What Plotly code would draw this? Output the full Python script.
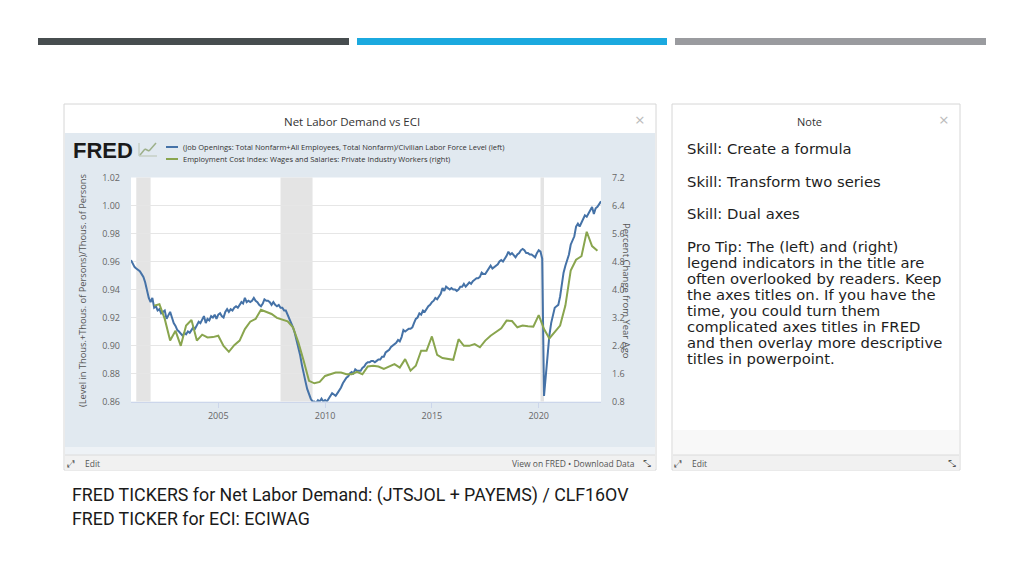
import plotly.graph_objects as go
import pandas as pd

W, H = 1024, 576
# the page body adds an 8px margin; draw everything shifted back by it
OX, OY = 8, 8

# (JTSJOL + PAYEMS) / CLF16OV, monthly, first value Dec 2000
nld_start = "2000-12-01"
net_labor_demand = [
    0.961,
    0.958, 0.956, 0.955, 0.954, 0.953, 0.951, 0.949, 0.945, 0.939, 0.934, 0.931, 0.934,  # 2001
    0.927, 0.928, 0.925, 0.926, 0.923, 0.924, 0.925, 0.919, 0.922, 0.924, 0.920, 0.916,  # 2002
    0.914, 0.911, 0.910, 0.908, 0.907, 0.909, 0.908, 0.910, 0.909, 0.911, 0.913, 0.912,  # 2003
    0.915, 0.917, 0.916, 0.919, 0.921, 0.916, 0.919, 0.918, 0.921, 0.920, 0.922, 0.919,  # 2004
    0.922, 0.923, 0.921, 0.920, 0.924, 0.926, 0.924, 0.926, 0.925, 0.927, 0.928, 0.927,  # 2005
    0.929, 0.931, 0.930, 0.934, 0.931, 0.932, 0.931, 0.932, 0.934, 0.932, 0.931, 0.929,  # 2006
    0.928, 0.930, 0.933, 0.932, 0.932, 0.931, 0.929, 0.931, 0.929, 0.928, 0.929, 0.927,  # 2007
    0.927, 0.925, 0.925, 0.922, 0.920, 0.917, 0.913, 0.909, 0.904, 0.898, 0.893, 0.886,  # 2008
    0.879, 0.874, 0.869, 0.865, 0.862, 0.860, 0.860, 0.859, 0.861, 0.860, 0.862, 0.860,  # 2009
    0.861, 0.860, 0.862, 0.864, 0.866, 0.865, 0.864, 0.866, 0.868, 0.870, 0.873, 0.875,  # 2010
    0.877, 0.878, 0.880, 0.881, 0.880, 0.883, 0.882, 0.882, 0.882, 0.884, 0.885, 0.887,  # 2011
    0.888, 0.888, 0.889, 0.889, 0.888, 0.889, 0.890, 0.890, 0.892, 0.892, 0.895, 0.896,  # 2012
    0.897, 0.899, 0.900, 0.901, 0.902, 0.904, 0.903, 0.906, 0.911, 0.910, 0.911, 0.912,  # 2013
    0.912, 0.913, 0.916, 0.919, 0.920, 0.923, 0.922, 0.925, 0.924, 0.926, 0.928, 0.929,  # 2014
    0.931, 0.932, 0.934, 0.933, 0.935, 0.937, 0.941, 0.939, 0.942, 0.941, 0.940, 0.941,  # 2015
    0.940, 0.940, 0.939, 0.940, 0.942, 0.942, 0.944, 0.942, 0.944, 0.945, 0.944, 0.946,  # 2016
    0.947, 0.948, 0.948, 0.949, 0.952, 0.951, 0.951, 0.953, 0.955, 0.957, 0.955, 0.956,  # 2017
    0.957, 0.958, 0.960, 0.961, 0.960, 0.962, 0.964, 0.967, 0.965, 0.966, 0.964, 0.963,  # 2018
    0.965, 0.966, 0.968, 0.969, 0.968, 0.966, 0.966, 0.965, 0.965, 0.964, 0.963, 0.966,  # 2019
    0.968, 0.967, 0.962, 0.864, 0.879, 0.898, 0.907, 0.916, 0.922, 0.927, 0.928, 0.929,  # 2020
    0.935, 0.944, 0.952, 0.957, 0.961, 0.965, 0.972, 0.975, 0.978, 0.985, 0.987, 0.985,  # 2021
    0.988, 0.990, 0.993, 0.992, 0.994, 0.996, 0.999, 0.994, 0.998, 0.999, 1.001, 1.003,  # 2022
]

# ECIWAG, percent change from year ago, quarterly from 2002Q1
eci_start = "2002-01-01"
eci_wages_yoy = [
    3.54, 3.58, 3.16, 2.54,  # 2002
    2.82, 2.39, 2.97, 3.13,  # 2003
    2.54, 2.71, 2.63, 2.64,  # 2004
    2.68, 2.39, 2.22, 2.41,  # 2005
    2.54, 2.87, 3.08, 3.16,  # 2006
    3.42, 3.37, 3.30, 3.19,  # 2007
    3.14, 3.09, 2.92, 2.49,  # 2008
    1.96, 1.39, 1.32, 1.36,  # 2009
    1.53, 1.58, 1.63, 1.63,  # 2010
    1.58, 1.58, 1.65, 1.58,  # 2011
    1.80, 1.82, 1.80, 1.73,  # 2012
    1.80, 1.87, 1.77, 2.01,  # 2013
    1.68, 1.82, 2.25, 2.25,  # 2014
    2.66, 2.13, 2.04, 2.01,  # 2015
    1.99, 2.58, 2.39, 2.39,  # 2016
    2.44, 2.35, 2.54, 2.68,  # 2017
    2.79, 2.89, 3.11, 3.10,  # 2018
    2.92, 2.97, 2.95, 2.94,  # 2019
    3.27, 2.87, 2.60, 2.79,  # 2020
    2.97, 3.54, 4.54, 4.85,  # 2021
    4.95, 5.65, 5.24, 5.11,  # 2022
]

recessions = [("2001-03-01", "2001-11-01"), ("2007-12-01", "2009-06-01"), ("2020-02-01", "2020-04-01")]
x_tick_years = ["2005", "2010", "2015", "2020"]

nld_dates = pd.date_range(nld_start, periods=len(net_labor_demand), freq="MS")
eci_dates = pd.date_range(eci_start, periods=len(eci_wages_yoy), freq="QS")

BLUE = "#4572a7"
GREEN = "#89a54e"
PANEL = "#e1e9f0"
FONT = "Open Sans"


def fx(x):
    return (x - OX) / W


def fy(y):
    return 1 - (y - OY) / H


def rect(x0, y0, x1, y1, fill, line=None):
    return dict(type="rect", xref="paper", yref="paper", layer="below",
                x0=fx(x0), x1=fx(x1), y0=fy(y1), y1=fy(y0),
                fillcolor=fill, line={"width": 1 if line else 0, "color": line or fill})


def seg(x0, y0, x1, y1, color, width=2):
    return dict(type="line", xref="paper", yref="paper",
                x0=fx(x0), x1=fx(x1), y0=fy(y0), y1=fy(y1),
                line={"color": color, "width": width})


def txt(x, y, s, size, color="#333", family=FONT, xanchor="center", angle=0, bold=False):
    return dict(x=fx(x), y=fy(y), xref="paper", yref="paper", text=f"<b>{s}</b>" if bold else s,
                showarrow=False, xanchor=xanchor, yanchor="middle", textangle=angle,
                font={"size": size, "color": color, "family": family})


fig = go.Figure()
fig.add_trace(go.Scatter(x=nld_dates, y=net_labor_demand, mode="lines",
                         line={"color": BLUE, "width": 2}, yaxis="y", showlegend=False))
fig.add_trace(go.Scatter(x=eci_dates, y=eci_wages_yoy, mode="lines",
                         line={"color": GREEN, "width": 2}, yaxis="y2", showlegend=False))

shapes = [
    # slide header bars
    rect(38, 38, 349, 45, "#474d4f"),
    rect(357, 38, 667, 45, "#1ba9df"),
    rect(675, 38, 986, 45, "#9a9b9f"),
    # FRED graph panel
    rect(64, 104, 656, 470, "white", "#d6d6d6"),
    rect(65, 133, 655, 447, PANEL),
    rect(65, 447, 655, 455, "#eef2f6"),
    rect(65, 455, 655, 470, "#f1f1f1"),
    seg(65, 455, 655, 455, "#dcdcdc", 1),
    rect(131, 177.5, 601, 401.5, "white"),
    # note panel
    rect(672, 104, 960, 470, "white", "#d6d6d6"),
    rect(673, 430, 959, 455, "#f8f8f8"),
    rect(673, 455, 959, 470, "#f1f1f1"),
    seg(673, 455, 959, 455, "#dcdcdc", 1),
    # legend swatches
    seg(166, 147, 178, 147, BLUE),
    seg(166, 159, 178, 159, GREEN),
    # little FRED chart icon
    seg(139, 156, 157, 156, "#b9c3b0", 1),
    seg(139, 156, 139, 143, "#b9c3b0", 1),
    seg(140, 155, 145, 149, "#9db08a", 1.5),
    seg(145, 149, 149, 151, "#9db08a", 1.5),
    seg(149, 151, 156, 143, "#9db08a", 1.5),
]
for start, end in recessions:
    shapes.append(dict(type="rect", xref="x", yref="y domain", x0=start, x1=end, y0=0, y1=1,
                       fillcolor="#e4e4e4", line={"width": 0}, layer="below"))

annotations = [
    txt(352, 122, "Net Labor Demand vs ECI", 11.5, "#333"),
    txt(640, 119, "×", 17, "#bbbbbb"),
    txt(103, 150, "FRED", 22, "#1a1a1a", "Liberation Sans", bold=True),
    txt(181, 147, "(Job Openings: Total Nonfarm+All Employees, Total Nonfarm)/Civilian Labor Force Level (left)",
        7.5, "#333", xanchor="left"),
    txt(181, 159, "Employment Cost Index: Wages and Salaries: Private Industry Workers (right)",
        7.5, "#333", xanchor="left"),
    txt(83, 290, "(Level in Thous.+Thous. of Persons)/Thous. of Persons", 9.3, "#555", angle=-90),
    txt(627, 291, "Percent Change from Year Ago", 9.5, "#555", angle=90),
    txt(71, 463, "⤢", 10, "#555"),
    txt(83, 463, "Edit", 8.5, "#555", xanchor="left"),
    txt(637, 463, "View on FRED • Download Data", 8.5, "#555", xanchor="right"),
    txt(647, 463, "⤡", 10, "#555"),
    # note panel
    txt(809, 122, "Note", 11, "#333"),
    txt(944, 119, "×", 17, "#bbbbbb"),
    txt(678, 463, "⤢", 10, "#555"),
    txt(690, 463, "Edit", 8.5, "#555", xanchor="left"),
    txt(952, 463, "⤡", 10, "#555"),
    # slide footer
    txt(70, 495, "FRED TICKERS for Net Labor Demand: (JTSJOL + PAYEMS) / CLF16OV", 17.8, "#1a1a1a", "Roboto", "left"),
    txt(70, 518, "FRED TICKER for ECI: ECIWAG", 17.8, "#1a1a1a", "Roboto", "left"),
]

note_lines = [
    (149, "Skill: Create a formula"),
    (181, "Skill: Transform two series"),
    (213, "Skill: Dual axes"),
    (246, "Pro Tip: The (left) and (right)"),
    (262, "legend indicators in the title are"),
    (278, "often overlooked by readers. Keep"),
    (294, "the axes titles on. If you have the"),
    (310, "time, you could turn them"),
    (326, "complicated axes titles in FRED"),
    (342, "and then overlay more descriptive"),
    (358, "titles in powerpoint."),
]
for y, line in note_lines:
    annotations.append(txt(685, y, line, 14.8, "#1e1e1e", "DejaVu Sans", "left"))

tick_font = {"size": 9, "color": "#666", "family": FONT}
fig.update_layout(
    width=W, height=H,
    margin={"l": 0, "r": 0, "t": 0, "b": 0, "autoexpand": False},
    paper_bgcolor="white", plot_bgcolor="white",
    shapes=shapes, annotations=annotations,
    xaxis=dict(
        domain=[fx(131), fx(601)], type="date", range=["2000-12-01", "2022-12-01"],
        tickvals=[f"{y}-01-01" for y in x_tick_years], ticktext=x_tick_years,
        showgrid=False, zeroline=False, ticks="outside", ticklen=5, tickcolor="#ccd6eb",
        showline=True, linecolor="#ccd6eb", tickfont=tick_font, ticklabelstandoff=1,
        automargin=False,
    ),
    yaxis=dict(
        domain=[fy(401.5), fy(177.5)], range=[0.86, 1.02], tick0=0.86, dtick=0.02,
        tickformat=".2f", gridcolor="#e6e6e6", zeroline=False, tickfont=tick_font,
        ticklabelstandoff=10, automargin=False,
    ),
    yaxis2=dict(
        overlaying="y", side="right", range=[0.8, 7.2], tick0=0.8, dtick=0.8,
        tickformat=".1f", showgrid=False, zeroline=False, tickfont=tick_font,
        ticklabelstandoff=10, automargin=False,
    ),
)

fig.write_html("out.html")
